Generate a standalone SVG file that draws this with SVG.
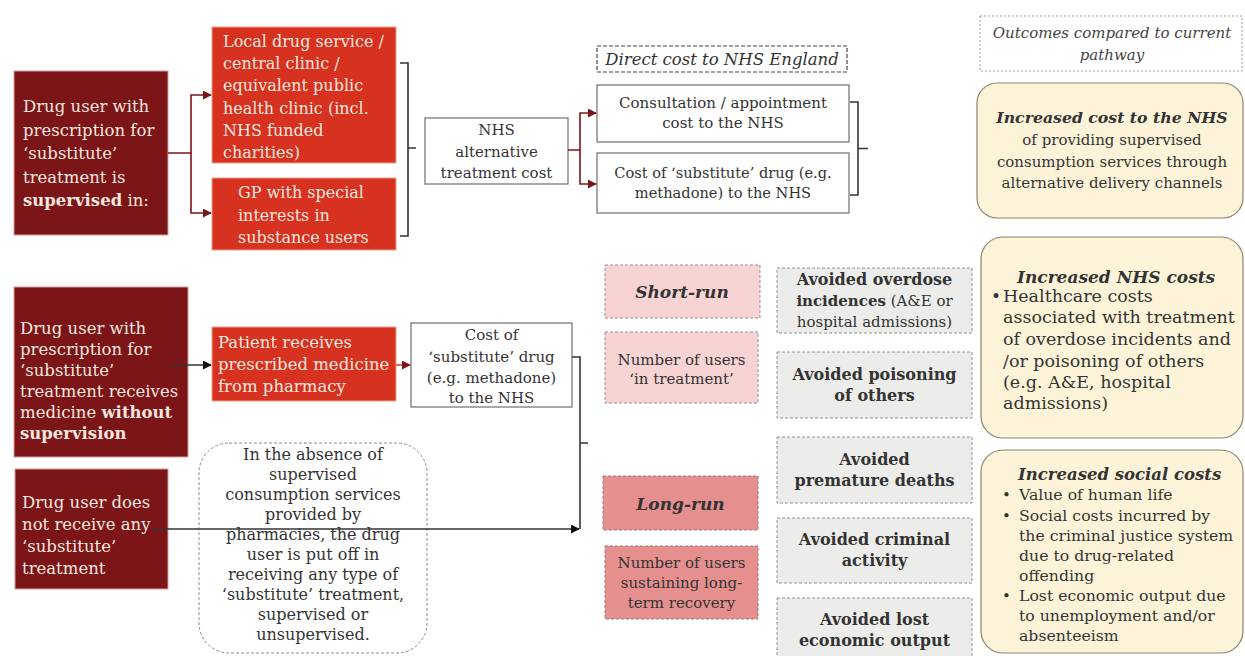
<svg xmlns="http://www.w3.org/2000/svg" width="1245" height="656" viewBox="0 0 1245 656">
  <defs>
    <style>
      text { font-family: "DejaVu Serif", "Liberation Serif", serif; font-size: 15px; }
      .lt { fill: #f6e7df; font-size: 16.5px; }
      .lt2 { fill: #f6e7df; font-size: 16px; }
      .dk { fill: #333333; }
      .c { text-anchor: middle; }
      .b { font-weight: bold; }
      .bi { font-weight: bold; font-style: italic; }
      .it { font-style: italic; }
      .ev { font-weight: bold; font-size: 16px; }
      .maroon { fill: #7c1517; stroke: #d99a9a; stroke-width: 1; }
      .red { fill: #d7311f; stroke: #f0a090; stroke-width: 1; }
      .plain { fill: #ffffff; stroke: #6e6e6e; stroke-width: 1.2; }
      .pale { fill: #f7d4d3; stroke: #9a8f8f; stroke-width: 1; stroke-dasharray: 3 2; }
      .rose { fill: #e5908f; stroke: #9a7a7a; stroke-width: 1; stroke-dasharray: 3 2; }
      .grey { fill: #ececea; stroke: #8f9490; stroke-width: 1; stroke-dasharray: 3 2; }
      .cream { fill: #fdf3d9; stroke: #8c8370; stroke-width: 1.2; }
      .link-m { fill: none; stroke: #7c1517; stroke-width: 1.6; }
      .link-k { fill: none; stroke: #333333; stroke-width: 1.6; }
      .brace { fill: none; stroke: #333333; stroke-width: 1.6; }
    </style>
    <marker id="head-m" viewBox="0 0 10 10" refX="9" refY="5" markerWidth="9" markerHeight="9" markerUnits="userSpaceOnUse" orient="auto">
      <path d="M0,0 L10,5 L0,10 z" fill="#7c1517"/>
    </marker>
    <marker id="head-k" viewBox="0 0 10 10" refX="9" refY="5" markerWidth="9" markerHeight="9" markerUnits="userSpaceOnUse" orient="auto">
      <path d="M0,0 L10,5 L0,10 z" fill="#111111"/>
    </marker>
  </defs>

  <!-- supervised pathway -->
  <g id="supervised-user">
    <rect class="maroon" x="14" y="71" width="154" height="164"/>
    <text class="lt" x="23" y="112">Drug user with</text>
    <text class="lt" x="23" y="135.5">prescription for</text>
    <text class="lt" x="23" y="159">‘substitute’</text>
    <text class="lt" x="23" y="182.5">treatment is</text>
    <text class="lt" x="23" y="206"><tspan class="b">supervised</tspan> in:</text>
  </g>
  <g id="local-service">
    <rect class="red" x="212" y="27" width="184" height="136"/>
    <text class="lt2" x="223" y="47">Local drug service /</text>
    <text class="lt2" x="223" y="69">central clinic /</text>
    <text class="lt2" x="223" y="91">equivalent public</text>
    <text class="lt2" x="223" y="114">health clinic (incl.</text>
    <text class="lt2" x="223" y="136">NHS funded</text>
    <text class="lt2" x="223" y="158">charities)</text>
  </g>
  <g id="gp-special">
    <rect class="red" x="212" y="178" width="184" height="72"/>
    <text class="lt2" x="238" y="198">GP with special</text>
    <text class="lt2" x="238" y="221">interests in</text>
    <text class="lt2" x="238" y="243">substance users</text>
  </g>
  <g id="nhs-alt-cost">
    <rect class="plain" x="425" y="118" width="143" height="66"/>
    <text class="dk c" x="496.5" y="135">NHS</text>
    <text class="dk c" x="496.5" y="157">alternative</text>
    <text class="dk c" x="496.5" y="178">treatment cost</text>
  </g>
  <g id="direct-cost-label">
    <rect x="597" y="46" width="250" height="26" fill="#ffffff" stroke="#444444" stroke-width="1.2" stroke-dasharray="4 2"/>
    <text class="dk c it" x="722" y="65" style="font-size:16.5px">Direct cost to NHS England</text>
  </g>
  <g id="consultation-cost">
    <rect class="plain" x="597" y="85" width="252" height="57"/>
    <text class="dk c" x="723" y="108">Consultation / appointment</text>
    <text class="dk c" x="723" y="128">cost to the NHS</text>
  </g>
  <g id="drug-cost-top">
    <rect class="plain" x="597" y="153" width="252" height="60"/>
    <text class="dk c" x="723" y="178" style="font-size:14.6px">Cost of ‘substitute’ drug (e.g.</text>
    <text class="dk c" x="723" y="198" style="font-size:14.6px">methadone) to the NHS</text>
  </g>

  <!-- outcomes column -->
  <g id="outcomes-label">
    <rect x="980" y="16" width="262" height="55" fill="#ffffff" stroke="#9a9a9a" stroke-width="1" stroke-dasharray="2 2"/>
    <text class="c it" x="1112" y="38" fill="#444444">Outcomes compared to current</text>
    <text class="c it" x="1112" y="60" fill="#444444">pathway</text>
  </g>
  <g id="outcome-nhs-cost">
    <rect class="cream" x="977" y="83" width="266" height="135" rx="20"/>
    <text class="dk c bi" x="1112" y="123" style="font-size:15.7px">Increased cost to the NHS</text>
    <text class="dk c" x="1112" y="145">of providing supervised</text>
    <text class="dk c" x="1112" y="167">consumption services through</text>
    <text class="dk c" x="1112" y="188">alternative delivery channels</text>
  </g>

  <!-- unsupervised pathway -->
  <g id="unsupervised-user">
    <rect class="maroon" x="14" y="287" width="174" height="170"/>
    <text class="lt" x="20" y="334">Drug user with</text>
    <text class="lt" x="20" y="355">prescription for</text>
    <text class="lt" x="20" y="376">‘substitute’</text>
    <text class="lt" x="20" y="397">treatment receives</text>
    <text class="lt" x="20" y="418">medicine <tspan class="b">without</tspan></text>
    <text class="lt b" x="20" y="439">supervision</text>
  </g>
  <g id="pharmacy">
    <rect class="red" x="212" y="327" width="184" height="74"/>
    <text class="lt" x="218" y="348">Patient receives</text>
    <text class="lt" x="218" y="370">prescribed medicine</text>
    <text class="lt" x="218" y="392">from pharmacy</text>
  </g>
  <g id="drug-cost-mid">
    <rect class="plain" x="411" y="323" width="161" height="84"/>
    <text class="dk c" x="491.5" y="340">Cost of</text>
    <text class="dk c" x="491.5" y="362">‘substitute’ drug</text>
    <text class="dk c" x="491.5" y="383">(e.g. methadone)</text>
    <text class="dk c" x="491.5" y="403">to the NHS</text>
  </g>
  <g id="no-treatment-user">
    <rect class="maroon" x="15" y="469" width="153" height="120"/>
    <text class="lt" x="22" y="508">Drug user does</text>
    <text class="lt" x="22" y="530">not receive any</text>
    <text class="lt" x="22" y="552">‘substitute’</text>
    <text class="lt" x="22" y="574">treatment</text>
  </g>
  <g id="absence-note" style="font-size:16px">
    <rect x="199" y="443" width="228" height="210" rx="30" fill="#ffffff" stroke="#8a8a8a" stroke-width="1" stroke-dasharray="3 2"/>
    <text class="dk c" x="313" y="460" style="font-size:16px">In the absence of</text>
    <text class="dk c" x="313" y="480" style="font-size:16px">supervised</text>
    <text class="dk c" x="313" y="500" style="font-size:16px">consumption services</text>
    <text class="dk c" x="313" y="520" style="font-size:16px">provided by</text>
    <text class="dk c" x="313" y="540" style="font-size:16px">pharmacies, the drug</text>
    <text class="dk c" x="313" y="560" style="font-size:16px">user is put off in</text>
    <text class="dk c" x="313" y="580" style="font-size:16px">receiving any type of</text>
    <text class="dk c" x="313" y="600" style="font-size:16px">‘substitute’ treatment,</text>
    <text class="dk c" x="313" y="620" style="font-size:16px">supervised or</text>
    <text class="dk c" x="313" y="640" style="font-size:16px">unsupervised.</text>
  </g>

  <!-- time horizon -->
  <g id="short-run">
    <rect class="pale" x="605" y="265" width="155" height="53"/>
    <text class="dk c bi" x="682" y="298" style="font-size:17px">Short-run</text>
  </g>
  <g id="users-in-treatment">
    <rect class="pale" x="605" y="332" width="153" height="71"/>
    <text class="dk c" x="681.5" y="365">Number of users</text>
    <text class="dk c" x="681.5" y="384">‘in treatment’</text>
  </g>
  <g id="long-run">
    <rect class="rose" x="603" y="476" width="155" height="54"/>
    <text class="dk c bi" x="680.5" y="510" style="font-size:17px">Long-run</text>
  </g>
  <g id="users-recovery">
    <rect class="rose" x="605" y="546" width="153" height="73"/>
    <text class="dk c" x="681.5" y="568">Number of users</text>
    <text class="dk c" x="681.5" y="588">sustaining long-</text>
    <text class="dk c" x="681.5" y="608">term recovery</text>
  </g>

  <!-- avoided events -->
  <g id="avoided-overdose">
    <rect class="grey" x="777" y="268" width="195" height="65"/>
    <text class="dk c ev" x="874.5" y="285">Avoided overdose</text>
    <text class="dk c" x="874.5" y="306"><tspan class="b">incidences</tspan> (A&amp;E or</text>
    <text class="dk c" x="874.5" y="327">hospital admissions)</text>
  </g>
  <g id="avoided-poisoning">
    <rect class="grey" x="777" y="352" width="195" height="66"/>
    <text class="dk c ev" x="874.5" y="380">Avoided poisoning</text>
    <text class="dk c ev" x="874.5" y="401">of others</text>
  </g>
  <g id="avoided-deaths">
    <rect class="grey" x="777" y="437" width="195" height="66"/>
    <text class="dk c ev" x="874.5" y="465">Avoided</text>
    <text class="dk c ev" x="874.5" y="486">premature deaths</text>
  </g>
  <g id="avoided-crime">
    <rect class="grey" x="777" y="518" width="195" height="65"/>
    <text class="dk c ev" x="874.5" y="545">Avoided criminal</text>
    <text class="dk c ev" x="874.5" y="566">activity</text>
  </g>
  <g id="avoided-output">
    <rect class="grey" x="777" y="598" width="195" height="66"/>
    <text class="dk c ev" x="874.5" y="625">Avoided lost</text>
    <text class="dk c ev" x="874.5" y="646">economic output</text>
  </g>

  <!-- cost outcomes -->
  <g id="outcome-nhs-increase">
    <rect class="cream" x="981" y="237" width="262" height="201" rx="22"/>
    <text class="dk bi" x="1017" y="283" style="font-size:17px">Increased NHS costs</text>
    <text class="dk" x="991" y="302" style="font-size:17px">•</text>
    <text class="dk" x="1003" y="302" style="font-size:17.5px">Healthcare costs</text>
    <text class="dk" x="1003" y="323" style="font-size:17.5px">associated with treatment</text>
    <text class="dk" x="1003" y="345" style="font-size:17.5px">of overdose incidents and</text>
    <text class="dk" x="1003" y="367" style="font-size:17.5px">/or poisoning of others</text>
    <text class="dk" x="1003" y="388" style="font-size:17.5px">(e.g. A&amp;E, hospital</text>
    <text class="dk" x="1003" y="409" style="font-size:17.5px">admissions)</text>
  </g>
  <g id="outcome-social">
    <rect class="cream" x="981" y="450" width="262" height="203" rx="22"/>
    <text class="dk bi" x="1018" y="480" style="font-size:16.5px">Increased social costs</text>
    <text class="dk" x="1002" y="500">•</text>
    <text class="dk" x="1019" y="500" style="font-size:15.7px">Value of human life</text>
    <text class="dk" x="1002" y="521">•</text>
    <text class="dk" x="1019" y="521" style="font-size:15.7px">Social costs incurred by</text>
    <text class="dk" x="1019" y="541" style="font-size:15.7px">the criminal justice system</text>
    <text class="dk" x="1019" y="561" style="font-size:15.7px">due to drug-related</text>
    <text class="dk" x="1019" y="581" style="font-size:15.7px">offending</text>
    <text class="dk" x="1002" y="601">•</text>
    <text class="dk" x="1019" y="601" style="font-size:15.7px">Lost economic output due</text>
    <text class="dk" x="1019" y="621" style="font-size:15.7px">to unemployment and/or</text>
    <text class="dk" x="1019" y="641" style="font-size:15.7px">absenteeism</text>
  </g>

  <!-- connectors and brackets -->
  <g id="connectors">
    <path class="link-m" d="M168,153 H191 V95 H211" marker-end="url(#head-m)"/>
    <path class="link-m" d="M191,153 V213 H211" marker-end="url(#head-m)"/>
    <path class="brace" d="M400,63 H408 V236 H400 M408,148 H416"/>
    <path class="link-m" d="M568,150 H580 V113 H596" marker-end="url(#head-m)"/>
    <path class="link-m" d="M580,150 V184 H596" marker-end="url(#head-m)"/>
    <path class="brace" d="M850,102 H858 V195 H850 M858,148.5 H868"/>
    <path class="link-k" d="M170,365 H211" marker-end="url(#head-k)"/>
    <path fill="none" stroke="#d0493c" stroke-width="1.6" d="M396,365 H410" marker-end="url(#head-m)"/>
    <path class="brace" d="M572,357 H580 V529 M580,443 H588"/>
    <path class="link-k" d="M153,529 H579" marker-end="url(#head-k)"/>
  </g>
</svg>
